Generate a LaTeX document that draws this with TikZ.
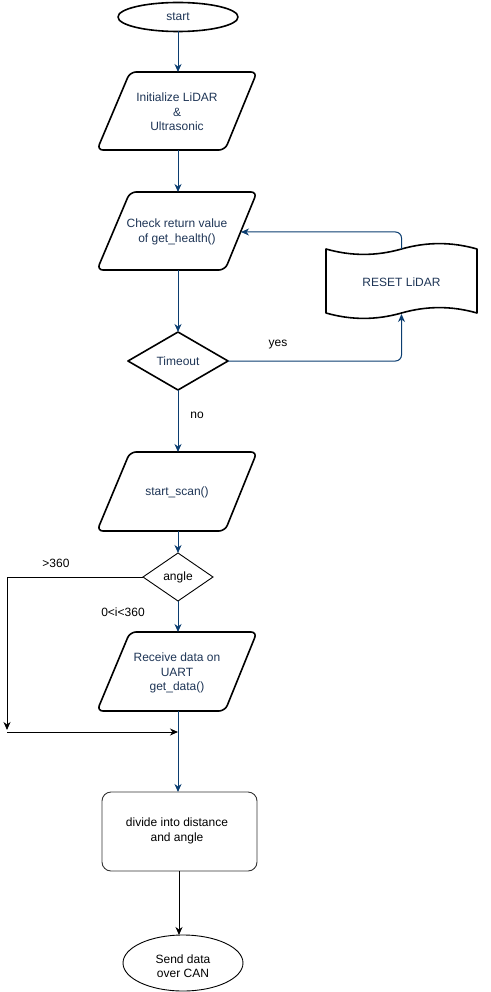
\documentclass[tikz,border=0pt]{standalone}
\usepackage{fontspec}
\setmainfont{Liberation Sans}
\usetikzlibrary{arrows.meta,shapes.geometric}
\definecolor{navy}{HTML}{0B3D70}
\definecolor{navytext}{HTML}{1E3556}
\tikzset{
  thickline/.style={draw=black,line width=1.6pt,line join=round},
  thinline/.style={draw=black,line width=0.9pt},
  bluearrow/.style={draw=navy,line width=1pt,-{Stealth[length=8pt,width=7pt,inset=2.5pt]}},
  blackarrow/.style={draw=black,line width=1pt,-{Stealth[length=8pt,width=7pt,inset=2.5pt]}},
  lbl/.style={font=\fontsize{12}{14.5}\selectfont,align=center,inner sep=0pt},
  navylbl/.style={lbl,text=navytext},
}
\begin{document}
\begin{tikzpicture}[x=1pt,y=-1pt]
\useasboundingbox (0,0) rectangle (490,992);
% start terminal
\draw[thickline] (178,17) ellipse [x radius=60, y radius=14.5];
\node[navylbl] (start) at (178,17) {start};
\coordinate (startS) at (178,31.5);
% parallelogram 1
\draw[thickline,rounded corners=6pt] (130,72) -- (257,72) -- (225,150) -- (97,150) -- cycle;
\node[navylbl] (init) at (177,112) {Initialize LiDAR\\\&\\ Ultrasonic};
\coordinate (initN) at (178,72);
\coordinate (initS) at (178,150);
% parallelogram 2
\draw[thickline,rounded corners=6pt] (130,192) -- (257,192) -- (225,270) -- (97,270) -- cycle;
\node[navylbl] (check) at (177,232) {Check return value\\of get\_health()};
\coordinate (checkN) at (178,192);
\coordinate (checkS) at (178,270);
\coordinate (checkE) at (241,232);
% Timeout diamond
\draw[thickline] (178,332) -- (228,361) -- (178,390) -- (128,361) -- cycle;
\node[navylbl] (timeout) at (178,361) {Timeout};
\coordinate (toN) at (178,332);
\coordinate (toE) at (228,361);
\coordinate (toS) at (178,390);
% tape RESET LiDAR
\draw[thickline] (326,249) .. controls (351.2,256.2) and (376.3,256.2) .. (401.5,249)
  .. controls (426.7,241.8) and (451.8,241.8) .. (477,249) -- (477,313)
  .. controls (451.8,305.8) and (426.7,305.8) .. (401.5,313)
  .. controls (376.3,320.2) and (351.2,320.2) .. (326,313) -- cycle;
\node[navylbl] (reset) at (401.5,282) {RESET LiDAR};
\coordinate (resetN) at (401.5,249);
\coordinate (resetS) at (401.5,314);
% parallelogram 3
\draw[thickline,rounded corners=6pt] (130,452) -- (257,452) -- (225,531) -- (97,531) -- cycle;
\node[navylbl] (scan) at (177,492) {start\_scan()};
\coordinate (scanN) at (178,452);
\coordinate (scanS) at (178,531);
% angle diamond
\draw[thinline] (178,553) -- (213,577) -- (178,601) -- (143,577) -- cycle;
\node[lbl] (angle) at (178,577) {angle};
\coordinate (angN) at (178,553);
\coordinate (angW) at (143,577);
\coordinate (angS) at (178,601);
% parallelogram 4
\draw[thickline,rounded corners=6pt] (130,632) -- (257,632) -- (225,711) -- (97,711) -- cycle;
\node[navylbl] (recv) at (177,673) {Receive data on\\UART\\get\_data()};
\coordinate (recvN) at (178,632);
\coordinate (recvS) at (178,711);
% rounded rectangle
\draw[draw=black!80,line width=0.9pt,rounded corners=9pt] (102,792) rectangle (257,871);
\node[lbl] (divide) at (177,831) {divide into distance\\and angle};
\coordinate (divN) at (178,792);
\coordinate (divS) at (179,871);
% end ellipse
\draw[thinline] (183,963) ellipse [x radius=60, y radius=28];
\node[lbl] (send) at (183,966) {Send data\\over CAN};
\coordinate (sendN) at (179,935);
% loop corner points
\coordinate (leftEnd) at (7,730);
\coordinate (leftStart) at (7,732);
\coordinate (merge) at (178,732);
% connectors
\draw[bluearrow] (startS) -- (initN);
\draw[bluearrow] (initS) -- (checkN);
\draw[bluearrow] (checkS) -- (toN);
\draw[bluearrow,rounded corners=6pt] (toE) -| (resetS);
\draw[bluearrow,rounded corners=6pt] (resetN) |- (checkE);
\draw[bluearrow] (toS) -- (scanN);
\draw[bluearrow] (scanS) -- (angN);
\draw[blackarrow] (angW) -| (leftEnd);
\draw[blackarrow] (leftStart) -- (merge);
\draw[bluearrow] (angS) -- (recvN);
\draw[bluearrow] (recvS) -- (divN);
\draw[blackarrow] (divS) -- (sendN);
% edge labels
\node[lbl] (yes) at (278,345) {yes};
\node[lbl] (no) at (197,415) {no};
\node[lbl] (gt) at (56,563) {>360};
\node[lbl] (range) at (123,612) {0<i<360};
\end{tikzpicture}
\end{document}
